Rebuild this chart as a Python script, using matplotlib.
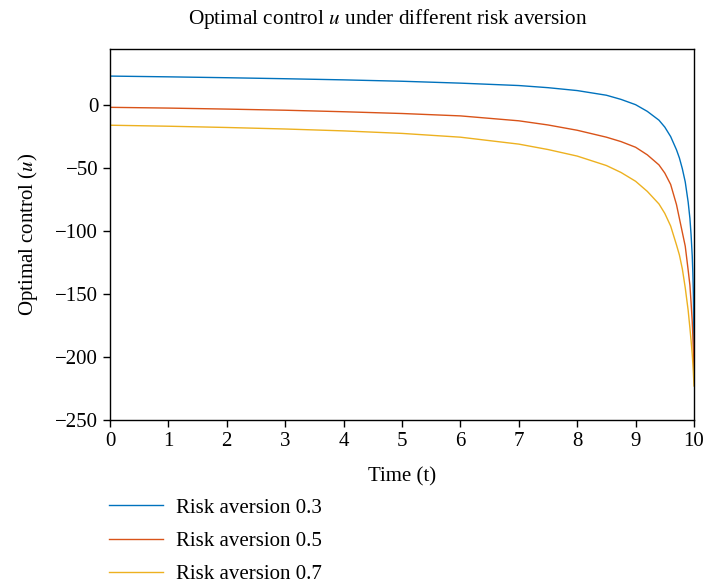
import matplotlib
matplotlib.use("Agg")
import matplotlib.pyplot as plt

plt.rcParams['font.family'] = ['Liberation Serif', 'DejaVu Serif']
plt.rcParams['mathtext.fontset'] = 'stix'

# values
t = [0, 1, 2, 3, 4, 5, 6, 7, 7.5, 8, 8.5, 8.75, 9, 9.2, 9.4, 9.5, 9.6, 9.7, 9.75,
     9.8, 9.85, 9.9, 9.93, 9.95, 9.97, 9.98, 9.99, 10]
u_03 = [23.0, 22.4, 21.7, 20.9, 20.0, 18.9, 17.4, 15.5, 13.8, 11.5, 7.8, 4.5, 0.3, -5,
        -12, -17.5, -25, -35.5, -42, -50.5, -61, -77, -90, -103, -120, -133, -152, -210]
u_05 = [-1.8, -2.4, -3.2, -4.1, -5.3, -6.7, -8.6, -12.5, -15.8, -20, -25.5, -29, -33.5,
        -39.5, -47.5, -54, -63, -79, -90, -101, -112, -131, -143, -157, -172, -183, -197, -215]
u_07 = [-16, -16.8, -17.8, -19, -20.5, -22.5, -25.5, -31, -35.3, -40.5, -48, -53.5, -60.5,
        -68.5, -78.5, -86, -96, -111, -119, -130, -145, -163, -177, -187, -198, -205, -213, -223]
labels = ['Risk aversion 0.3', 'Risk aversion 0.5', 'Risk aversion 0.7']
colors = ['#0072BD', '#D95319', '#EDB120']

fig = plt.figure(figsize=(7.04, 5.84), dpi=100)
ax = fig.add_axes([110/704, 1 - 420/584, 584/704, 371/584])

for u, lab, c in zip([u_03, u_05, u_07], labels, colors):
    ax.plot(t, u, color=c, lw=1.0, label=lab)

ax.set_xlim(0, 10)
ax.set_ylim(-250, 44.5)
ax.set_xticks(range(0, 11))
ax.set_yticks(range(-250, 1, 50))
ax.tick_params(direction='out', length=5, width=1, labelsize=15)
for s in ax.spines.values():
    s.set_linewidth(1.0)

ax.set_title(r"Optimal control $u$ under different risk aversion", fontsize=15.3,
             pad=18, x=(388 - 110)/584)
ax.set_xlabel("Time (t)", fontsize=15, labelpad=12)
ax.set_ylabel(r"Optimal control ($u$)", fontsize=15, labelpad=11)

h, l = ax.get_legend_handles_labels()
fig.legend(h, l, loc='upper left', bbox_to_anchor=(109/704, 1 - 498/584),
           frameon=False, fontsize=15, handlelength=2.6, handletextpad=0.6,
           labelspacing=0.66, borderpad=0, borderaxespad=0)

fig.savefig("out.png", dpi=100)
